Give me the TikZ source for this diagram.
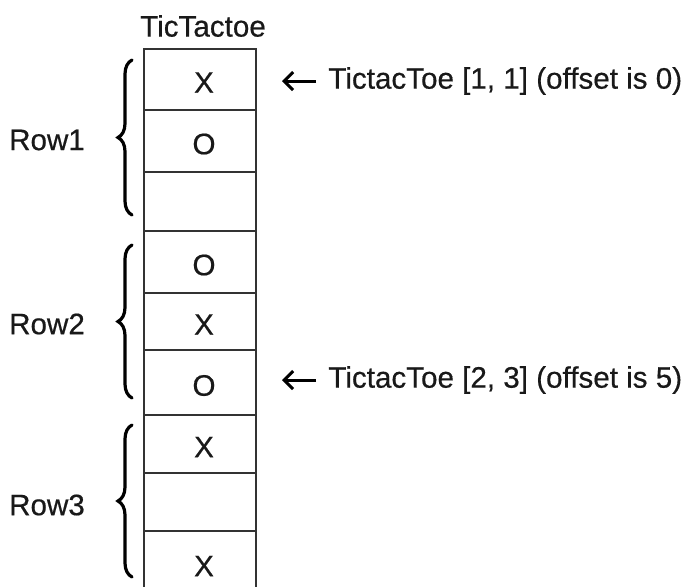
\documentclass[tikz,border=0pt]{standalone}
\usepackage{fontspec}
\setmainfont{Liberation Sans}
\newfontfamily\heavysans[FakeBold=0.5]{Liberation Sans}
\usetikzlibrary{decorations.pathreplacing,arrows.meta}
\begin{document}
\begin{tikzpicture}[x=0.5pt,y=-0.5pt,
  txt/.style={font=\heavysans\fontsize{14.8}{16}\selectfont, text=black!90},
  cell/.style={txt, draw=black!80, line width=1pt, minimum width=56pt,
    inner sep=0pt, anchor=north west},
  rowbrace/.style={decorate, decoration={brace, amplitude=7pt},
    line width=1.6pt, line cap=round},
  pointer/.style={-{Straight Barb[length=4.5pt,width=9pt]}, line width=1.5pt,
    shorten <=6pt}]
  \fill[white] (0,0) rectangle (691,586);
  \clip (0,0) rectangle (691,586);

  % title of the array
  \node[txt] (title) at (203,26) {TicTactoe};

  % the nine cells of the array, top and bottom edges in order
  \foreach \t/\b/\m/\n in {48/109/X/c1, 109/171/O/c2, 171/230/{}/c3,
                          230/292/O/c4, 292/349/X/c5, 349/414/O/c6,
                          414/472/X/c7, 472/530/{}/c8, 530/594/X/c9} {
    \pgfmathsetmacro\h{(\b-\t)*0.5}
    \node[cell, minimum height=\h pt] (\n) at (143,\t) {};
    \node[txt] (\n m) at ([xshift=2pt,yshift=-1.5pt]\n.center) {\m};
  }

  % row labels and braces
  \node[txt] (r1) at (47,140) {Row1};
  \node[txt] (r2) at (47,324) {Row2};
  \node[txt] (r3) at (47,505) {Row3};
  \draw[rowbrace] (132,215) -- (132,60);
  \draw[rowbrace] (132,398) -- (132,245);
  \draw[rowbrace] (132,577) -- (132,425);

  % element annotations
  \node[txt, anchor=west, inner sep=0pt] (l1) at (328,81)
    {TictacToe [1, 1] (offset is 0)};
  \node[txt, anchor=west, inner sep=0pt] (l2) at (328,380)
    {TictacToe [2, 3] (offset is 5)};
  \coordinate (p1) at (282,81);
  \coordinate (p2) at (282,380);
  \draw[pointer] (l1.west) -- (p1);
  \draw[pointer] (l2.west) -- (p2);
\end{tikzpicture}
\end{document}
